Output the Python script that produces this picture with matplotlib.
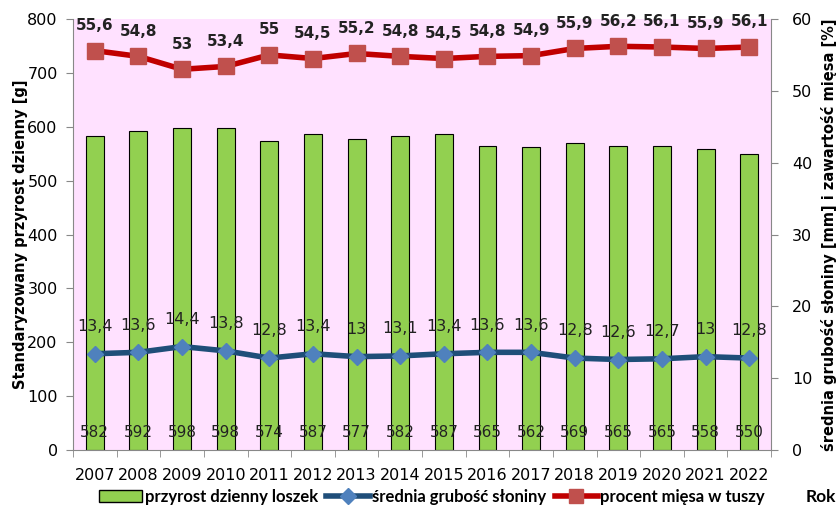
import numpy as np
import matplotlib.pyplot as plt
from matplotlib.ticker import MultipleLocator, FixedLocator
from matplotlib.patches import Patch
from matplotlib.lines import Line2D

years = ['2007', '2008', '2009', '2010', '2011', '2012', '2013', '2014',
         '2015', '2016', '2017', '2018', '2019', '2020', '2021', '2022']
przyrost = [582, 592, 598, 598, 574, 587, 577, 582, 587, 565, 562, 569, 565, 565, 558, 550]
slonina = [13.4, 13.6, 14.4, 13.8, 12.8, 13.4, 13.0, 13.1, 13.4, 13.6, 13.6, 12.8, 12.6, 12.7, 13.0, 12.8]
mieso = [55.6, 54.8, 53.0, 53.4, 55.0, 54.5, 55.2, 54.8, 54.5, 54.8, 54.9, 55.9, 56.2, 56.1, 55.9, 56.1]

def pl(v):
    # polish decimal comma
    return ('%g' % v).replace('.', ',')

plt.rcParams['font.family'] = 'DejaVu Sans'

fig = plt.figure(figsize=(8.39, 5.07), dpi=100)
ax = fig.add_axes([0.087, 0.1124, 0.832, 0.8501])
ax2 = ax.twinx()

x = np.arange(len(years))
ax.set_facecolor('#ffe1ff')
ax.bar(x, przyrost, width=0.41, color='#92d050', edgecolor='black', linewidth=0.8, zorder=2)
for xi, v in zip(x, przyrost):
    ax.text(xi, 33, str(v), ha='center', va='center', fontsize=11, color='#222222', zorder=3)

ax.set_xlim(-0.5, len(years) - 0.5)
ax.set_ylim(0, 800)
ax.yaxis.set_major_locator(MultipleLocator(100))
ax.set_xticks(x)
ax.set_xticklabels(years, fontsize=11.5)
ax.xaxis.set_minor_locator(FixedLocator(np.arange(-0.5, len(years), 1)))
ax.tick_params(axis='x', which='major', length=0, pad=13)
ax.tick_params(axis='x', which='minor', length=5, color='#888888')
ax.tick_params(axis='y', labelsize=11.5, length=5, color='#888888', pad=6)
for s in ['top', 'right']:
    ax.spines[s].set_visible(False)
for s in ['left', 'bottom']:
    ax.spines[s].set_color('#888888')
ax.set_ylabel('Standaryzowany przyrost dzienny [g]', fontsize=10.5, fontweight='bold')
ax.yaxis.set_label_coords(-0.065, 0.5)

ax2.set_ylim(0, 60)
ax2.yaxis.set_major_locator(MultipleLocator(10))
ax2.tick_params(axis='y', labelsize=11.5, length=5, color='#888888', pad=10)
for s in ['top', 'left', 'bottom']:
    ax2.spines[s].set_visible(False)
ax2.spines['right'].set_color('#888888')
ax2.set_ylabel('średnia grubość słoniny [mm] i zawartość mięsa [%]', fontsize=10.5,
               fontweight='bold')
ax2.yaxis.set_label_coords(1.071, 0.5)

ax2.plot(x, slonina, color='#1f4e79', linewidth=4, marker='D', markersize=8,
         markerfacecolor='#4f81bd', markeredgecolor='#4f81bd', zorder=4)
ax2.plot(x, mieso, color='#c00000', linewidth=4, marker='s', markersize=12,
         markerfacecolor='#c0504d', markeredgecolor='#c0504d', zorder=4)
for xi, v in zip(x, slonina):
    ax2.text(xi, v + 3.8, pl(v), ha='center', va='center', fontsize=11.5, color='#222222')
for xi, v in zip(x, mieso):
    ax2.text(xi, v + 3.5, pl(v), ha='center', va='center', fontsize=11, fontweight='bold', color='#222222')

ax.set_zorder(ax2.get_zorder() - 1)
ax2.patch.set_visible(False)

handles = [Patch(facecolor='#92d050', edgecolor='black'),
           Line2D([], [], color='#1f4e79', linewidth=4, marker='D', markersize=8,
                  markerfacecolor='#4f81bd', markeredgecolor='#4f81bd'),
           Line2D([], [], color='#c00000', linewidth=4, marker='s', markersize=10,
                  markerfacecolor='#c0504d', markeredgecolor='#c0504d')]
labels = ['przyrost dzienny loszek', 'średnia grubość słoniny', 'procent mięsa w tuszy']
fig.legend(handles, labels, loc='center', bbox_to_anchor=(0.515, 0.02), ncol=3, frameon=False,
           prop={'family': 'Lato', 'weight': 'bold', 'size': 12}, handlelength=2.6,
           handleheight=0.8, handletextpad=0.15, columnspacing=0.5)
fig.text(0.997, 0.02, 'Rok', ha='right', va='center', fontsize=12.5, fontweight='bold', family='Lato')

fig.savefig('out.png', dpi=100)
